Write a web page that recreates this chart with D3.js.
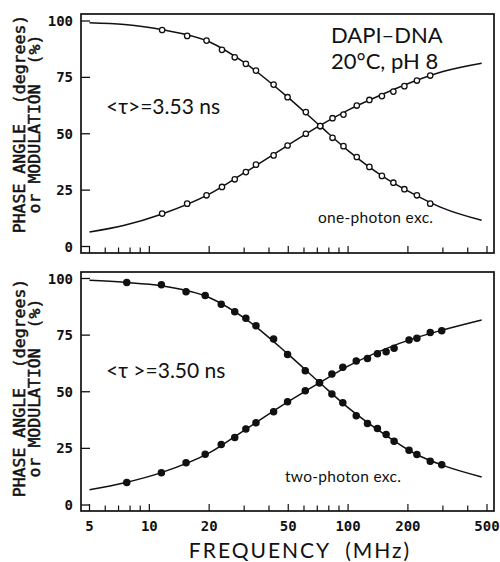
<!DOCTYPE html>
<html>
<head>
<meta charset="utf-8">
<script src="https://cdn.jsdelivr.net/npm/d3@7"></script>
<style>
	body{margin:0;background:#fff;}
	svg{display:block;}
	.tick{font-family:"DejaVu Sans Mono",monospace;font-size:14px;font-weight:bold;fill:#111;}
	.ytitle{font-family:"DejaVu Sans Mono",monospace;font-size:16.5px;fill:#111;stroke:#111;stroke-width:0.5px;}
	.note{font-family:"Lato","Noto Sans",sans-serif;font-weight:400;fill:#111;}
</style>
</head>
<body>
<svg width="500" height="562"></svg>
<script>
// frequencies in MHz, values in degrees / %
var freqOne = [11.6, 15.5, 19.4, 23.2, 26.9, 30.6, 34.4, 42.2, 49.6, 61.3, 72.4, 83.5, 94.8, 110.6, 128, 148, 169, 192, 222, 259];
var modOne = [96.0, 93.4, 91.3, 87.2, 83.9, 81.0, 78.0, 71.8, 66.2, 59.6, 53.4, 48.2, 44.5, 39.7, 35.3, 31.3, 28.3, 25.4, 22.7, 19.0];
var phaseOne = [14.6, 19.0, 22.7, 26.4, 29.8, 33.0, 36.3, 40.4, 44.8, 50.0, 53.4, 56.9, 58.5, 62.5, 65.0, 66.7, 68.7, 71.1, 73.6, 75.8];

var freqTwo = [7.7, 11.5, 15.3, 19.1, 23.0, 26.9, 30.6, 34.4, 42.2, 49.6, 60.9, 71.8, 82.9, 94.1, 109.9, 125.2, 140.5, 155.4, 170.4, 202.6, 222, 259, 296];
var modTwo = [98.2, 97.2, 94.2, 92.5, 88.6, 85.3, 82.4, 79.1, 73.3, 66.5, 59.3, 54.0, 49.0, 45.1, 39.4, 36.0, 33.8, 31.1, 28.2, 24.2, 22.3, 19.3, 17.8];
var phaseTwo = [9.9, 14.2, 18.6, 22.4, 26.7, 29.8, 33.6, 36.3, 41.2, 45.6, 50.4, 54.0, 57.8, 60.8, 63.6, 64.7, 66.8, 67.7, 69.2, 72.9, 73.6, 76.2, 76.9];

// fitted curves
var fitFreq = [5, 7.5, 11.5, 20, 30, 50, 72, 100, 150, 220, 300, 470];
var modFitOne = [99.2, 98.4, 96.2, 90.8, 81.6, 66.0, 53.6, 42.5, 31.0, 22.7, 17.0, 11.6];
var phaseFitOne = [6.4, 9.4, 14.3, 23.2, 32.6, 45.0, 53.6, 60.5, 67.6, 73.6, 77.6, 81.3];
var modFitTwo = [99.2, 98.3, 96.8, 91.6, 82.6, 66.5, 54.0, 43.0, 31.6, 22.4, 17.5, 12.4];
var phaseFitTwo = [6.7, 9.8, 14.3, 23.0, 33.0, 45.6, 54.0, 61.3, 68.5, 73.9, 77.3, 81.7];

var xTicks = [5, 6, 7, 8, 9, 10, 20, 30, 40, 50, 60, 70, 80, 90, 100, 200, 300, 400, 500];
var xLabels = [5, 10, 20, 50, 100, 200, 500];
var yTicks = [0, 25, 50, 75, 100];

var Chart = (function(){
	var svg = d3.select("svg");
	var left = 81, right = 494;
	var x = d3.scaleLog().domain([5,500]).range([89.5,487]);

	var zip = function(fs,vs){
		return fs.map(function(f,i){ return {f:f, v:vs[i]}; });
	}

	var drawPanel = function(opt){
		var g = svg.append("g");
		var y = d3.scaleLinear().domain([0,100]).range([opt.y0,opt.y100]);
		var line = d3.line()
					 .x(function(d){ return x(d.f); })
					 .y(function(d){ return y(d.v); })
					 .curve(d3.curveMonotoneX);

		// frame
		g.append("rect")
		 .attr("x",left).attr("y",opt.top)
		 .attr("width",right-left).attr("height",opt.bottom-opt.top)
		 .attr("fill","none").attr("stroke","#111").attr("stroke-width",1.7);

		// y ticks, pointing inward
		g.selectAll(".yt").data(yTicks).enter().append("line")
		 .attr("x1",left).attr("x2",left+9)
		 .attr("y1",function(d){ return y(d); }).attr("y2",function(d){ return y(d); })
		 .attr("stroke","#111").attr("stroke-width",1.3);
		g.selectAll(".yl").data(yTicks).enter().append("text")
		 .attr("class","tick")
		 .attr("x",73).attr("y",function(d){ return y(d)+5; })
		 .attr("text-anchor","end")
		 .text(function(d){ return d; });

		// x ticks
		g.selectAll(".xt").data(xTicks).enter().append("line")
		 .attr("x1",function(d){ return x(d); }).attr("x2",function(d){ return x(d); })
		 .attr("y1",opt.bottom).attr("y2",function(d){ return opt.bottom-(xLabels.indexOf(d)>=0 ? 7 : 5.5); })
		 .attr("stroke","#111").attr("stroke-width",1.2);

		// y title, two lines
		var yt = g.append("g").attr("transform","translate(25,"+opt.titleY+") rotate(-90)");
		yt.append("text").attr("class","ytitle").attr("text-anchor","middle")
		  .attr("xml:space","preserve").text("PHASE ANGLE  (degrees)");
		yt.append("text").attr("class","ytitle").attr("text-anchor","middle")
		  .attr("y",15).attr("xml:space","preserve").text("or MODULATION  (%)");

		// fitted lines
		[opt.modFit,opt.phaseFit].forEach(function(vals){
			g.append("path")
			 .attr("d",line(zip(fitFreq,vals)))
			 .attr("fill","none").attr("stroke","#111").attr("stroke-width",1.5);
		});

		// symbols
		var pts = zip(opt.freq,opt.mod).concat(zip(opt.freq,opt.phase));
		g.selectAll(".pt").data(pts).enter().append("circle")
		 .attr("cx",function(d){ return x(d.f); })
		 .attr("cy",function(d){ return y(d.v); })
		 .attr("r",opt.filled ? 3.1 : 2.7)
		 .attr("fill",opt.filled ? "#111" : "#fff")
		 .attr("stroke","#111").attr("stroke-width",1.3);

		// notes
		g.append("text").attr("class","note")
		 .attr("x",106).attr("y",opt.tauY)
		 .style("font-size","21px")
		 .attr("xml:space","preserve")
		 .text(opt.tau);
		g.append("text").attr("class","note")
		 .attr("x",opt.excX).attr("y",opt.excY)
		 .style("font-size","15.5px").style("letter-spacing","0.3px")
		 .text(opt.exc);
		return g;
	}

	var render = function(){
		svg.append("rect").attr("width",500).attr("height",562).attr("fill","#fff");

		var top = drawPanel({
			top:14, bottom:253, y0:246.5, y100:21, titleY:124,
			freq:freqOne, mod:modOne, phase:phaseOne,
			modFit:modFitOne, phaseFit:phaseFitOne,
			filled:false, tau:"<\u03c4>=3.53 ns", tauY:114,
			exc:"one-photon exc.", excX:318, excY:223
		});
		top.append("text").attr("class","note")
		   .attr("x",331).attr("y",43).style("font-size","22px")
		   .text("DAPI\u2013DNA");
		top.append("text").attr("class","note")
		   .attr("x",331).attr("y",69).style("font-size","22px")
		   .text("20\u00b0C, pH 8");

		drawPanel({
			top:272, bottom:511, y0:505, y100:278.5, titleY:388,
			freq:freqTwo, mod:modTwo, phase:phaseTwo,
			modFit:modFitTwo, phaseFit:phaseFitTwo,
			filled:true, tau:"<\u03c4 >=3.50 ns", tauY:378,
			exc:"two-photon exc.", excX:285, excY:482
		});

		// x tick labels under the lower panel
		svg.selectAll(".xl").data(xLabels).enter().append("text")
		   .attr("class","tick")
		   .attr("x",function(d){ return x(d); }).attr("y",531)
		   .attr("text-anchor","middle")
		   .text(function(d){ return d; });

		svg.append("text").attr("class","note")
		   .attr("x",300).attr("y",558).attr("text-anchor","middle")
		   .style("font-size","21px").style("letter-spacing","2px")
		   .attr("xml:space","preserve")
		   .text("FREQUENCY  (MHz)");
	}

	return { render: render };
})();

Chart.render();
</script>
</body>
</html>
